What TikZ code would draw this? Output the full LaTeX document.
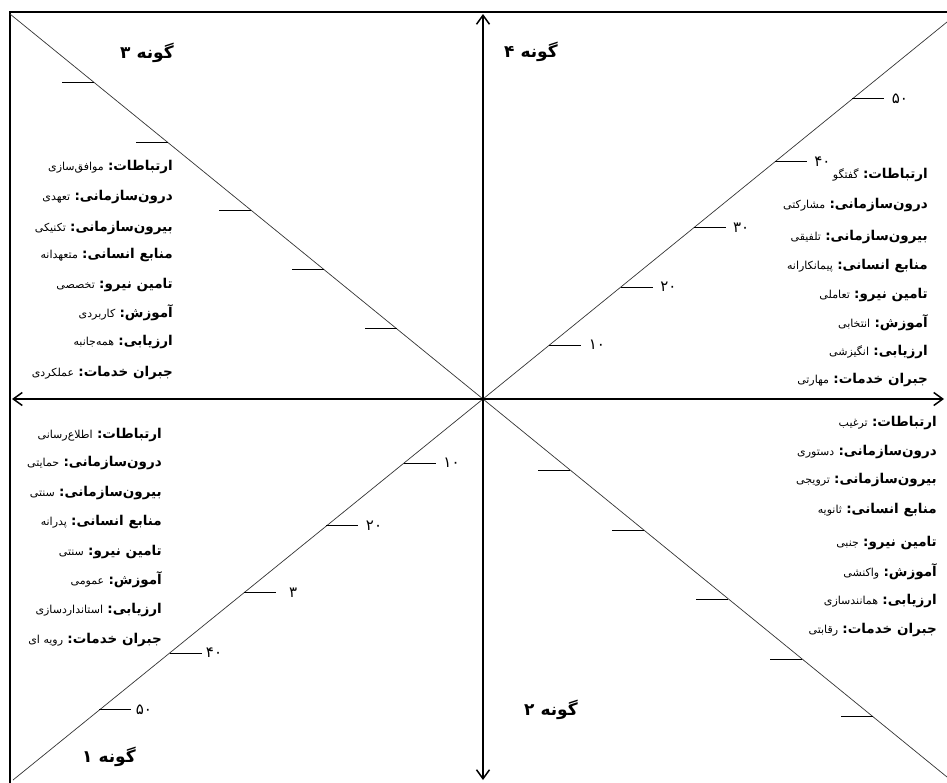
\documentclass[tikz,border=0pt]{standalone}
\usepackage{fontspec}
\usetikzlibrary{arrows.meta,calc}
\TeXXeTstate=1
\newfontfamily\arabicfont[Script=Arabic]{DejaVu Sans}
\newcommand\itm[2]{\beginR{\bfseries #1}\ {\fontsize{11}{12}\selectfont #2}\endR}
\begin{document}
\begin{tikzpicture}[x=1pt,y=-1pt,
  frame/.style={line width=1.4pt,black},
  axis/.style={line width=1.5pt,black,{Straight Barb[length=9pt,width=13pt]}-{Straight Barb[length=9pt,width=13pt]}},
  diag/.style={line width=0.7pt,black!80},
  tick/.style={line width=0.9pt,black},
  num/.style={font=\arabicfont\fontsize{15}{16}\selectfont,anchor=west,inner sep=1pt,xshift=6pt},
  item/.style={font=\arabicfont\fontsize{13.5}{15}\selectfont,anchor=east,inner sep=0pt},
  title/.style={font=\arabicfont\bfseries\fontsize{17}{18}\selectfont,inner sep=0pt}]
\useasboundingbox (0,0) rectangle (947,782);
\begin{scope}
\clip (0,0) rectangle (947,782);
% frame
\coordinate (F1) at (960,12);
\coordinate (F2) at (10,12);
\coordinate (F3) at (10,795);
\draw[frame] (F1) -- (F2) -- (F3);
% centre and corners
\coordinate (O) at (483,399);
\coordinate (TL) at (10,14);
\coordinate (TR) at (947,22);
\coordinate (BL) at (13,780);
\coordinate (BR) at (947,777);
\coordinate (Lx) at (12,399);
\coordinate (Rx) at (944,399);
\coordinate (Ty) at (483,14);
\coordinate (By) at (483,780);
% diagonals
\draw[diag] (TL) -- (O) -- (BR);
\draw[diag] (BL) -- (O) -- (TR);
% axes
\draw[axis] (Lx) -- (Rx);
\draw[axis] (By) -- (Ty);
% ticks, quadrant 3 (top left)
\foreach \t [count=\i] in {0.182,0.336,0.49,0.667,0.823}{
  \coordinate (qc\i) at ($(O)!\t!(TL)$);
  \draw[tick] (qc\i) -- ++(-32,0);}
% ticks, quadrant 2 (bottom right)
\foreach \t [count=\i] in {0.188,0.347,0.529,0.688,0.841}{
  \coordinate (qb\i) at ($(O)!\t!(BR)$);
  \draw[tick] (qb\i) -- ++(-32,0);}
% ticks, quadrant 4 (top right)
\coordinate (qd1) at ($(O)!0.143!(TR)$);
\coordinate (qd2) at ($(O)!0.297!(TR)$);
\coordinate (qd3) at ($(O)!0.454!(TR)$);
\coordinate (qd4) at ($(O)!0.629!(TR)$);
\coordinate (qd5) at ($(O)!0.796!(TR)$);
\draw[tick] (qd1) -- ++(32,0) node[num] (nd1) {۱۰};
\draw[tick] (qd2) -- ++(32,0) node[num] (nd2) {۲۰};
\draw[tick] (qd3) -- ++(32,0) node[num] (nd3) {۳۰};
\draw[tick] (qd4) -- ++(32,0) node[num] (nd4) {۴۰};
\draw[tick] (qd5) -- ++(32,0) node[num] (nd5) {۵۰};
% ticks, quadrant 1 (bottom left)
\coordinate (qa1) at ($(O)!0.168!(BL)$);
\coordinate (qa2) at ($(O)!0.333!(BL)$);
\coordinate (qa3) at ($(O)!0.509!(BL)$);
\coordinate (qa4) at ($(O)!0.667!(BL)$);
\coordinate (qa5) at ($(O)!0.816!(BL)$);
\draw[tick] (qa1) -- ++(32,0) node[num] (na1) {۱۰};
\draw[tick] (qa2) -- ++(32,0) node[num] (na2) {۲۰};
\draw[tick] (qa3) -- ++(32,0) node[num,xshift=6pt] (na3) {۳};
\draw[tick] (qa4) -- ++(32,0) node[num,xshift=-3pt] (na4) {۴۰};
\draw[tick] (qa5) -- ++(32,0) node[num,xshift=-3pt] (na5) {۵۰};
\end{scope}
% titles
\node[title] (g3) at (147,53) {\beginR گونه ۳\endR};
\node[title] (g4) at (531,52) {\beginR گونه ۴\endR};
\node[title] (g1) at (109,757) {\beginR گونه ۱\endR};
\node[title] (g2) at (551,710) {\beginR گونه ۲\endR};
% quadrant 3 list
\node[item] (c1) at (173,167) {\itm{ارتباطات:}{موافق‌سازی}};
\node[item] (c2) at (173,197) {\itm{درون‌سازمانی:}{تعهدی}};
\node[item] (c3) at (173,228) {\itm{بیرون‌سازمانی:}{تکنیکی}};
\node[item] (c4) at (173,255) {\itm{منابع انسانی:}{متعهدانه}};
\node[item] (c5) at (173,285) {\itm{تامین نیرو:}{تخصصی}};
\node[item] (c6) at (173,313) {\itm{آموزش:}{کاربردی}};
\node[item] (c7) at (173,342) {\itm{ارزیابی:}{همه‌جانبه}};
\node[item] (c8) at (173,373) {\itm{جبران خدمات:}{عملکردی}};
% quadrant 4 list
\node[item] (d1) at (928,175) {\itm{ارتباطات:}{گفتگو}};
\node[item] (d2) at (928,205) {\itm{درون‌سازمانی:}{مشارکتی}};
\node[item] (d3) at (928,237) {\itm{بیرون‌سازمانی:}{تلفیقی}};
\node[item] (d4) at (928,266) {\itm{منابع انسانی:}{پیمانکارانه}};
\node[item] (d5) at (928,295) {\itm{تامین نیرو:}{تعاملی}};
\node[item] (d6) at (928,323) {\itm{آموزش:}{انتخابی}};
\node[item] (d7) at (928,352) {\itm{ارزیابی:}{انگیزشی}};
\node[item] (d8) at (928,380) {\itm{جبران خدمات:}{مهارتی}};
% quadrant 1 list
\node[item] (a1) at (162,435) {\itm{ارتباطات:}{اطلاع‌رسانی}};
\node[item] (a2) at (162,463) {\itm{درون‌سازمانی:}{حمایتی}};
\node[item] (a3) at (162,493) {\itm{بیرون‌سازمانی:}{سنتی}};
\node[item] (a4) at (162,522) {\itm{منابع انسانی:}{پدرانه}};
\node[item] (a5) at (162,552) {\itm{تامین نیرو:}{سنتی}};
\node[item] (a6) at (162,580) {\itm{آموزش:}{عمومی}};
\node[item] (a7) at (162,610) {\itm{ارزیابی:}{استانداردسازی}};
\node[item] (a8) at (162,640) {\beginR{\bfseries جبران خدمات:}\ {\fontsize{11}{12}\selectfont رویه ای}\endR};
% quadrant 2 list
\node[item] (b1) at (937,423) {\itm{ارتباطات:}{ترغیب}};
\node[item] (b2) at (937,452) {\itm{درون‌سازمانی:}{دستوری}};
\node[item] (b3) at (937,480) {\itm{بیرون‌سازمانی:}{ترویجی}};
\node[item] (b4) at (937,510) {\itm{منابع انسانی:}{ثانویه}};
\node[item] (b5) at (937,543) {\itm{تامین نیرو:}{جنبی}};
\node[item] (b6) at (937,572) {\itm{آموزش:}{واکنشی}};
\node[item] (b7) at (937,601) {\itm{ارزیابی:}{همانندسازی}};
\node[item] (b8) at (937,630) {\itm{جبران خدمات:}{رقابتی}};
\end{tikzpicture}
\end{document}
